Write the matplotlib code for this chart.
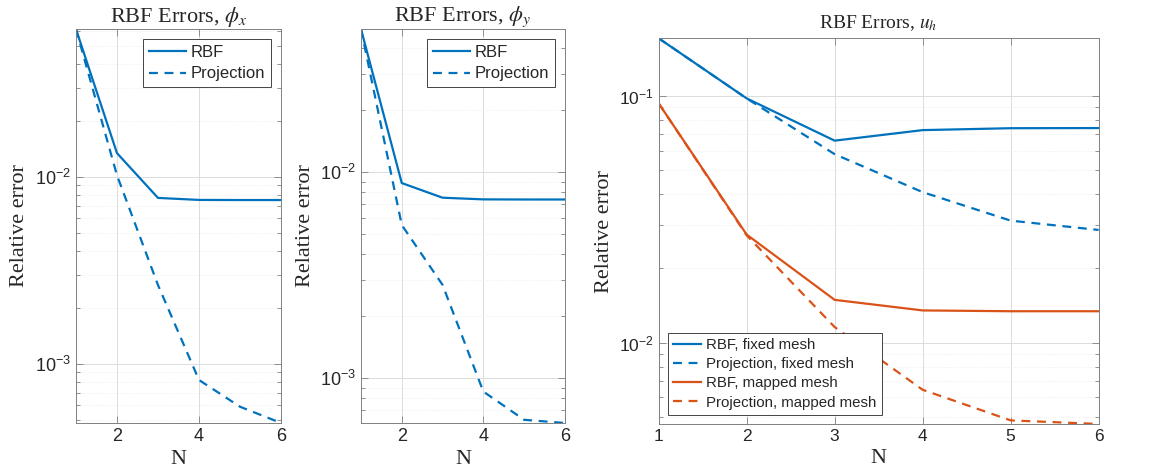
import numpy as np
import matplotlib
matplotlib.use("Agg")
import matplotlib.pyplot as plt
from matplotlib.ticker import FixedLocator, LogLocator, NullFormatter

plt.rcParams['mathtext.fontset'] = 'stix'
plt.rcParams['font.family'] = 'Liberation Sans'

# data
N = [1, 2, 3, 4, 5, 6]
rbf_phix = [0.0618, 0.0134, 0.00772, 0.00753, 0.00752, 0.00752]
proj_phix = [0.0618, 0.0102, 0.00264, 0.00082, 0.00059, 0.000483]
rbf_phiy = [0.0497, 0.00887, 0.00753, 0.00739, 0.00738, 0.00738]
proj_phiy = [0.0497, 0.00555, 0.00284, 0.000861, 0.000628, 0.000606]
rbf_fixed = [0.171, 0.0976, 0.0658, 0.0726, 0.0739, 0.0740]
proj_fixed = [0.171, 0.0976, 0.0580, 0.0407, 0.0312, 0.0286]
rbf_mapped = [0.0932, 0.0274, 0.0149, 0.0135, 0.0134, 0.0134]
proj_mapped = [0.0932, 0.0272, 0.01156, 0.00644, 0.00484, 0.00468]

blue = '#0072BD'
orange = '#D95319'
serif = 'Liberation Serif'
txt = '#262626'


def style_axes(ax, xticks, decades, tsize, lsize):
    ax.set_yscale('log')
    ax.set_xlim(1, 6)
    ax.xaxis.set_major_locator(FixedLocator(xticks))
    ax.yaxis.set_major_locator(FixedLocator(decades))
    ax.yaxis.set_minor_locator(LogLocator(base=10, subs=np.arange(2, 10)))
    ax.yaxis.set_minor_formatter(NullFormatter())
    ax.set_yticklabels([r'$\mathregular{10^{%d}}$' % int(np.log10(d)) for d in decades])
    ax.tick_params(which='both', direction='in', top=True, right=True,
                   labelsize=tsize, labelcolor=txt, color='#808080', width=0.6)
    ax.tick_params(which='major', length=5)
    ax.tick_params(which='minor', length=3)
    ax.grid(True, which='major', color='#dcdcdc', linewidth=0.7)
    ax.grid(True, which='minor', color='#ebebeb', linewidth=0.6, linestyle=':')
    ax.set_axisbelow(True)
    for s in ax.spines.values():
        s.set_color('#808080')
        s.set_linewidth(0.7)
    ax.set_xlabel('N', family=serif, fontsize=lsize, color=txt)
    ax.set_ylabel('Relative error', family=serif, fontsize=lsize, color=txt)


fig = plt.figure(figsize=(11.72, 4.75), dpi=100)
ax1 = fig.add_axes([0.0648, 0.1095, 0.175, 0.8295])
ax2 = fig.add_axes([0.308, 0.1095, 0.174, 0.8295])
ax3 = fig.add_axes([0.562, 0.1074, 0.3754, 0.812])

lw = 1.6
dash = (4, 3)

ax1.plot(N, rbf_phix, color=blue, lw=lw, label='RBF')
ax1.plot(N, proj_phix, color=blue, lw=lw, ls='--', dashes=dash, label='Projection')
style_axes(ax1, [2, 4, 6], [1e-3, 1e-2], 13, 16)
ax1.set_ylim(min(proj_phix), max(rbf_phix))
ax1.set_title(r'RBF Errors, $\phi_x$', family=serif, fontsize=16, color=txt, pad=5)

ax2.plot(N, rbf_phiy, color=blue, lw=lw, label='RBF')
ax2.plot(N, proj_phiy, color=blue, lw=lw, ls='--', dashes=dash, label='Projection')
style_axes(ax2, [2, 4, 6], [1e-3, 1e-2], 13, 16)
ax2.set_ylim(min(proj_phiy), max(rbf_phiy))
ax2.set_title(r'RBF Errors, $\phi_y$', family=serif, fontsize=16, color=txt, pad=5)

ax3.plot(N, rbf_fixed, color=blue, lw=lw, label='RBF, fixed mesh')
ax3.plot(N, proj_fixed, color=blue, lw=lw, ls='--', dashes=dash, label='Projection, fixed mesh')
ax3.plot(N, rbf_mapped, color=orange, lw=lw, label='RBF, mapped mesh')
ax3.plot(N, proj_mapped, color=orange, lw=lw, ls='--', dashes=dash, label='Projection, mapped mesh')
style_axes(ax3, [1, 2, 3, 4, 5, 6], [1e-2, 1e-1], 12.5, 16)
ax3.set_ylim(min(proj_mapped), max(rbf_fixed))
ax3.set_title(r'RBF Errors, $u_h$', family=serif, fontsize=14, color=txt, pad=7)

for ax, loc, fs, hl, ls in [(ax1, 'upper right', 12, 2.2, 0.4),
                            (ax2, 'upper right', 12, 2.2, 0.4),
                            (ax3, 'lower left', 10.8, 1.9, 0.35)]:
    leg = ax.legend(loc=loc, fontsize=fs, fancybox=False, framealpha=1,
                    edgecolor=txt, handlelength=hl, borderpad=0.35,
                    labelspacing=ls, handletextpad=0.3, borderaxespad=0.6)
    leg.get_frame().set_linewidth(0.6)
    for t in leg.get_texts():
        t.set_color(txt)

fig.savefig('out.png', dpi=100)
